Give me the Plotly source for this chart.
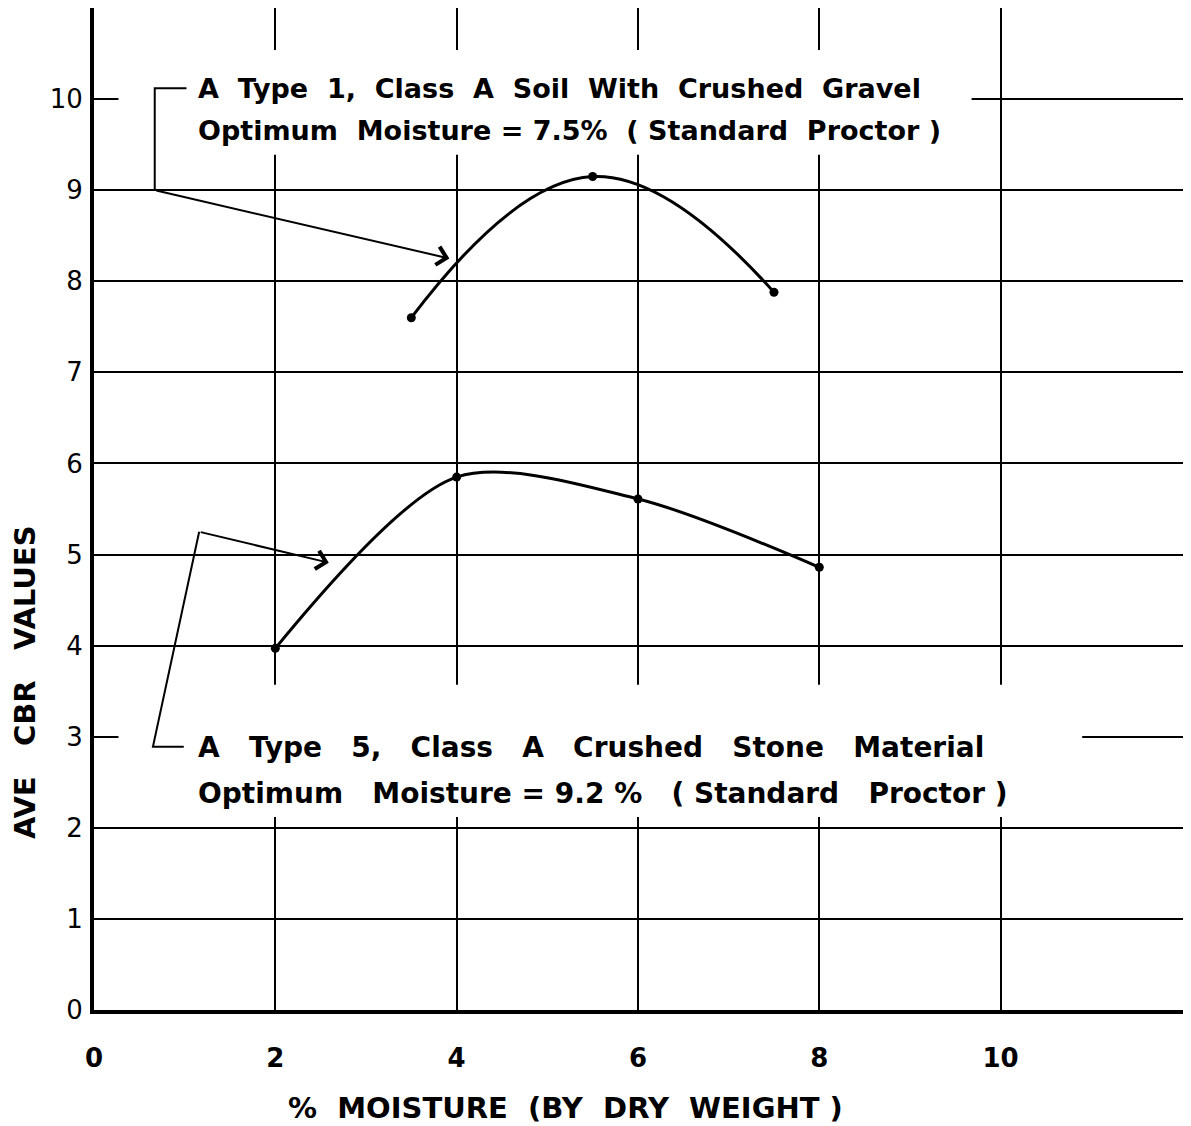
import plotly.graph_objects as go

# ---- data ----
moisture_type1 = [3.5, 5.5, 7.5]
cbr_type1 = [7.6, 9.15, 7.88]

moisture_type5 = [2.0, 4.0, 6.0, 8.0]
cbr_type5 = [3.97, 5.85, 5.61, 4.86]

x_ticks = [0, 2, 4, 6, 8, 10]
x_tick_labels = ["0", "2", "4", "6", "8", "10"]
y_ticks = [0, 1, 2, 3, 4, 5, 6, 7, 8, 9, 10]
y_tick_labels = [str(v) for v in y_ticks]

S2 = "\u00a0 "
S3 = "\u00a0\u00a0 "
label1_line1 = S2.join(["A", "Type", "1,", "Class", "A", "Soil", "With", "Crushed", "Gravel"])
label1_line2 = "Optimum" + S2 + "Moisture = 7.5%" + S2 + "( Standard" + S2 + "Proctor )"
label2_line1 = S3.join(["A", "Type", "5,", "Class", "A", "Crushed", "Stone", "Material"])
label2_line2 = "Optimum" + S3 + "Moisture = 9.2 %" + S3 + "( Standard" + S3 + "Proctor )"
x_title = "%" + S2 + "MOISTURE" + S2 + "(BY" + S2 + "DRY" + S2 + "WEIGHT )"
y_title = S3.join(["AVE", "CBR", "VALUES"])

FONT = "DejaVu Sans"
INK = "black"

fig = go.Figure()
for xs, ys, sm in [(moisture_type1, cbr_type1, 1.25), (moisture_type5, cbr_type5, 0.85)]:
    fig.add_trace(go.Scatter(
        x=xs, y=ys, mode="lines+markers",
        line=dict(color=INK, width=3, shape="spline", smoothing=sm),
        marker=dict(color=INK, size=9),
        showlegend=False, hoverinfo="skip", cliponaxis=False,
    ))

shapes = [
    # white label panels that interrupt the grid
    dict(type="rect", xref="x", yref="y", x0=0.27, x1=9.68, y0=9.39, y1=10.54,
         fillcolor="white", line=dict(width=0), layer="between"),
    dict(type="rect", xref="x", yref="y", x0=0.27, x1=10.9, y0=2.12, y1=3.57,
         fillcolor="white", line=dict(width=0), layer="between"),
    # leader lines
    dict(type="path", xref="x", yref="y", path="M 0.67 9.0 L 0.67 10.12 L 1.02 10.12",
         line=dict(color=INK, width=2), layer="above"),
    dict(type="path", xref="x", yref="y", path="M 1.16 5.25 L 0.65 2.89 L 0.99 2.89",
         line=dict(color=INK, width=2), layer="above"),
]

annotations = [
    dict(x=3.92, y=8.25, ax=0.67, ay=9.0, xref="x", yref="y", axref="x", ayref="y",
         text="", showarrow=True, arrowhead=4, arrowsize=1.8, arrowwidth=2, arrowcolor=INK),
    dict(x=2.59, y=4.91, ax=1.16, ay=5.25, xref="x", yref="y", axref="x", ayref="y",
         text="", showarrow=True, arrowhead=4, arrowsize=1.8, arrowwidth=2, arrowcolor=INK),
]
for txt, yv, fs in [(label1_line1, 10.12, 27), (label1_line2, 9.66, 27),
                    (label2_line1, 2.88, 28), (label2_line2, 2.38, 28)]:
    annotations.append(dict(x=1.13, y=yv, xref="x", yref="y", text=txt, showarrow=False,
                            xanchor="left", yanchor="middle",
                            font=dict(family=FONT, size=fs, color=INK, weight="bold")))
annotations.append(dict(x=5.2, y=0, xref="x", yref="paper", yshift=-98, text=x_title,
                        showarrow=False, xanchor="center", yanchor="middle",
                        font=dict(family=FONT, size=29, color=INK, weight="bold")))
annotations.append(dict(x=0, y=3.6, xref="paper", yref="y", xshift=-69, text=y_title,
                        showarrow=False, textangle=-90, xanchor="center", yanchor="middle",
                        font=dict(family=FONT, size=29, color=INK, weight="bold")))

fig.update_layout(
    width=1183, height=1118, autosize=False,
    margin=dict(l=86, r=0, t=0, b=116),
    paper_bgcolor="white", plot_bgcolor="white",
    shapes=shapes, annotations=annotations,
    xaxis=dict(range=[0, 12.1], tickvals=x_ticks, ticktext=x_tick_labels,
               showgrid=True, gridcolor=INK, gridwidth=2, zeroline=False,
               showline=True, linecolor=INK, linewidth=4, ticks="",
               ticklabelstandoff=22,
               tickfont=dict(family=FONT, size=26, color=INK, weight="bold")),
    yaxis=dict(range=[0, 11.0], tickvals=y_ticks, ticktext=y_tick_labels,
               showgrid=True, gridcolor=INK, gridwidth=2, zeroline=False,
               showline=True, linecolor=INK, linewidth=4, ticks="",
               ticklabelstandoff=2,
               tickfont=dict(family=FONT, size=26, color=INK)),
)

fig.write_html("out.html")
